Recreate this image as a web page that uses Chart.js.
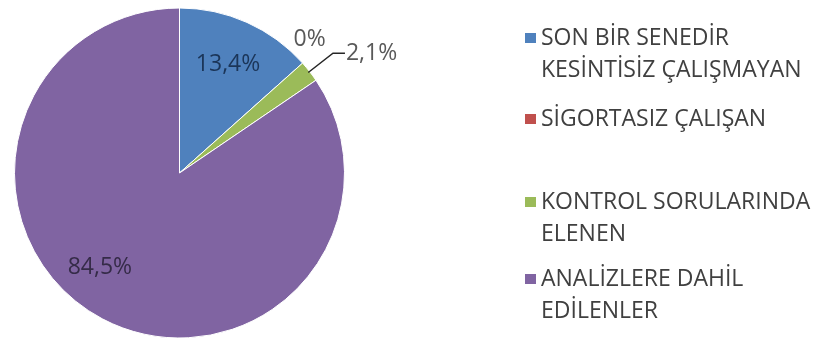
<!DOCTYPE html>
<html lang="tr">
<head>
<meta charset="UTF-8">
<title>Pie</title>
<script src="https://cdn.jsdelivr.net/npm/chart.js"></script>
<style>
  html, body { margin:0; padding:0; background:#fff; }
  #wrap { width:817px; height:343px; position:relative; }
</style>
</head>
<body>
<div id="wrap"><canvas id="pie"></canvas></div>
<script>
// data
const categories = [
  ['SON BİR SENEDİR', 'KESİNTİSİZ ÇALIŞMAYAN'],
  ['SİGORTASIZ ÇALIŞAN'],
  ['KONTROL SORULARINDA', 'ELENEN'],
  ['ANALİZLERE DAHİL', 'EDİLENLER']
];
const percents = [13.4, 0, 2.1, 84.5];
const valueLabels = ['13,4%', '0%', '2,1%', '84,5%'];
const colors = ['#4F81BD', '#C0504D', '#9BBB59', '#8064A2'];

const FONT = '"Open Sans", "Liberation Sans", sans-serif';

// slice labels: inside ones at a fraction of the radius, small ones outside
// along = where on the slice's arc, r = share of radius, da = nudge in degrees
const labelStyle = [
  { pos: 'in',   along: 0.5,  r: 0.72, da: 0,  color: '#1B3558' },
  { pos: 'out',  along: 0.5,  r: 1.13, da: -4, color: '#595959' },
  { pos: 'lead', along: 0.5,  r: 1.18, da: 0,  color: '#595959' },
  { pos: 'in',   along: 0.54, r: 0.75, da: 0,  color: '#352B48' }
];

const sliceLabels = {
  id: 'sliceLabels',
  afterDatasetsDraw(chart) {
    const ctx = chart.ctx;
    const arcs = chart.getDatasetMeta(0).data;
    ctx.save();
    ctx.font = '23px ' + FONT;
    ctx.textBaseline = 'middle';
    arcs.forEach((arc, i) => {
      const st = labelStyle[i];
      const mid = arc.startAngle + (arc.endAngle - arc.startAngle) * st.along;
      const a = mid + st.da * Math.PI / 180;
      const R = arc.outerRadius;
      const px = arc.x + Math.cos(a) * R * st.r;
      const py = arc.y + Math.sin(a) * R * st.r;
      ctx.fillStyle = st.color;
      if (st.pos === 'lead') {
        const ex = arc.x + Math.cos(mid) * R * 0.99;
        const ey = arc.y + Math.sin(mid) * R * 0.99;
        ctx.strokeStyle = '#262626';
        ctx.lineWidth = 1.5;
        ctx.beginPath();
        ctx.moveTo(ex, ey);
        ctx.lineTo(px, py);
        ctx.lineTo(px + 12, py);
        ctx.stroke();
        ctx.textAlign = 'left';
        ctx.fillText(valueLabels[i], px + 13, py);
      } else {
        ctx.textAlign = 'center';
        ctx.fillText(valueLabels[i], px, py);
      }
    });
    ctx.restore();
  }
};

// legend drawn on the canvas, one block per category
const sideLegend = {
  id: 'sideLegend',
  afterDraw(chart, args, opts) {
    const ctx = chart.ctx;
    ctx.save();
    ctx.font = opts.fontSize + 'px ' + FONT;
    ctx.textBaseline = 'middle';
    ctx.textAlign = 'left';
    chart.data.labels.forEach((lines, i) => {
      const y0 = opts.itemY[i];
      ctx.fillStyle = chart.data.datasets[0].backgroundColor[i];
      ctx.fillRect(opts.x, y0 - 5, 11, 10);
      ctx.fillStyle = '#404040';
      lines.forEach((t, j) => {
        ctx.fillText(t, opts.x + 16, y0 + j * opts.lineH);
      });
    });
    ctx.restore();
  }
};

new Chart(document.getElementById('pie'), {
  type: 'pie',
  data: {
    labels: categories,
    datasets: [{
      data: percents,
      backgroundColor: colors,
      borderColor: '#ffffff',
      borderWidth: 1
    }]
  },
  options: {
    responsive: true,
    maintainAspectRatio: false,
    animation: false,
    layout: { padding: { left: 14, right: 472, top: 6, bottom: 3 } },
    plugins: {
      legend: { display: false },
      tooltip: { enabled: false },
      sideLegend: { x: 525, itemY: [38, 119, 202, 279], lineH: 32, fontSize: 23 }
    }
  },
  plugins: [sliceLabels, sideLegend]
});
</script>
</body>
</html>
